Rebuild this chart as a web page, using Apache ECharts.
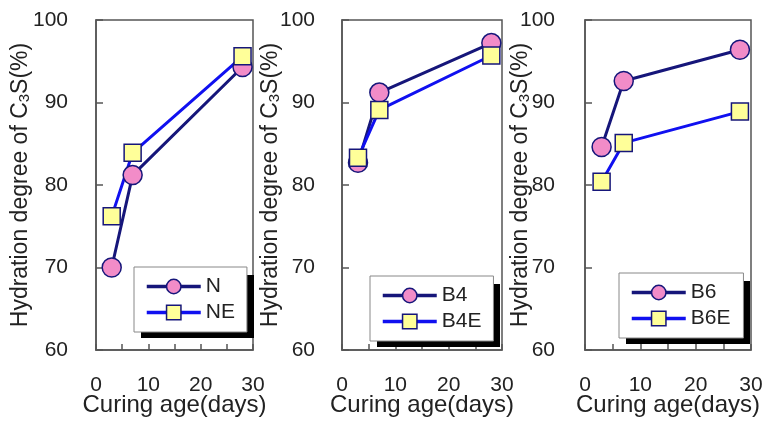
<!DOCTYPE html>
<html>
<head>
<meta charset="utf-8">
<script src="https://cdn.jsdelivr.net/npm/echarts@6/dist/echarts.min.js"></script>
<style>
  html, body { margin: 0; padding: 0; background: #fff; }
  #chart { width: 767px; height: 426px; }
</style>
</head>
<body>
<div id="chart"></div>
<script>
var days = [3, 7, 28];
var names = [['N', 'NE'], ['B4', 'B4E'], ['B6', 'B6E']];
var plainVals = [
  [70.0, 81.2, 94.3],
  [82.7, 91.2, 97.2],
  [84.6, 92.6, 96.4]
];
var extVals = [
  [76.2, 83.9, 95.6],
  [83.3, 89.1, 95.7],
  [80.4, 85.1, 88.9]
];
var yTicks = [60, 70, 80, 90, 100];

var chart = echarts.init(document.getElementById('chart'));

var grids = [
  { left: 96, top: 20, width: 157, height: 330 },
  { left: 342, top: 20, width: 160, height: 330 },
  { left: 585, top: 20, width: 166, height: 330 }
];
var yNameGap = [64, 60, 53];
var yLabelMargin = [28, 27, 30];
// legend boxes: left, top, width, height, right padding
var legendBox = [
  [134, 267, 113, 63, 12],
  [370, 276, 123, 63, 12],
  [619, 273, 124, 63, 13]
];

var navy = '#16167a';
var blue = '#1010f0';
var font = 'Liberation Sans, Arial, sans-serif';

var option = {
  backgroundColor: '#fff',
  animation: false,
  grid: [], xAxis: [], yAxis: [], series: [], legend: [], graphic: []
};

for (var i = 0; i < 3; i++) {
  var lb = legendBox[i];
  option.grid.push(Object.assign({
    show: true, borderColor: '#555', borderWidth: 1.5, backgroundColor: '#fff',
    containLabel: false, outerBoundsMode: 'none'
  }, grids[i]));
  option.xAxis.push({
    type: 'value', gridIndex: i, min: 0, max: 30, interval: 5,
    name: 'Curing age(days)', nameLocation: 'middle', nameGap: 43, nameMoveOverlap: false,
    nameTextStyle: { fontSize: 24, color: '#222', fontFamily: font },
    axisLine: { show: true, onZero: false, lineStyle: { color: '#555', width: 1.5 } },
    axisTick: { show: true, inside: true, length: 6, lineStyle: { color: '#555', width: 1.5 } },
    axisLabel: {
      fontSize: 21, color: '#222', fontFamily: font, margin: 25,
      formatter: function (v) { return v % 10 === 0 ? String(v) : ''; }
    },
    splitLine: { show: false }
  });
  option.yAxis.push({
    type: 'value', gridIndex: i, min: yTicks[0], max: yTicks[yTicks.length - 1], interval: 10,
    name: 'Hydration degree of C{sub|3}S(%)', nameLocation: 'middle', nameGap: yNameGap[i],
    nameMoveOverlap: false,
    nameTextStyle: {
      fontSize: 23, color: '#222', fontFamily: font,
      rich: { sub: { fontSize: 15, color: '#222', fontFamily: font, verticalAlign: 'bottom', padding: [8, 0, 0, 0] } }
    },
    axisLine: { show: true, lineStyle: { color: '#555', width: 1.5 } },
    axisTick: { show: true, inside: true, length: 7, lineStyle: { color: '#555', width: 1.5 } },
    axisLabel: { fontSize: 21, color: '#222', fontFamily: font, margin: yLabelMargin[i] },
    splitLine: { show: false }
  });
  option.series.push({
    name: names[i][0], type: 'line', xAxisIndex: i, yAxisIndex: i,
    data: days.map(function (d, k) { return [d, plainVals[i][k]]; }),
    symbol: 'circle', symbolSize: 19,
    lineStyle: { color: navy, width: 3 },
    itemStyle: { color: '#f28cc8', borderColor: navy, borderWidth: 1.5 }
  });
  option.series.push({
    name: names[i][1], type: 'line', xAxisIndex: i, yAxisIndex: i,
    data: days.map(function (d, k) { return [d, extVals[i][k]]; }),
    symbol: 'rect', symbolSize: 17,
    lineStyle: { color: blue, width: 3 },
    itemStyle: { color: '#ffff99', borderColor: navy, borderWidth: 1.5 }
  });
  // black drop shadow behind the legend box
  option.graphic.push({
    type: 'rect', z: 3, silent: true,
    shape: { x: lb[0] + 7, y: lb[1] + 8, width: lb[2], height: lb[3] },
    style: { fill: '#000' }
  });
  option.legend.push({
    data: names[i], orient: 'vertical', z: 5,
    left: lb[0], top: lb[1],
    itemWidth: 54, itemHeight: 18, itemGap: 5,
    padding: [9, lb[4], 9, 11],
    backgroundColor: '#fff', borderColor: '#888', borderWidth: 1,
    lineStyle: { width: 3.5 },
    itemStyle: { borderWidth: 1.5 },
    textStyle: { fontSize: 21, color: '#222', fontFamily: font, lineHeight: 20 },
    selectedMode: false
  });
}

chart.setOption(option);
</script>
</body>
</html>
